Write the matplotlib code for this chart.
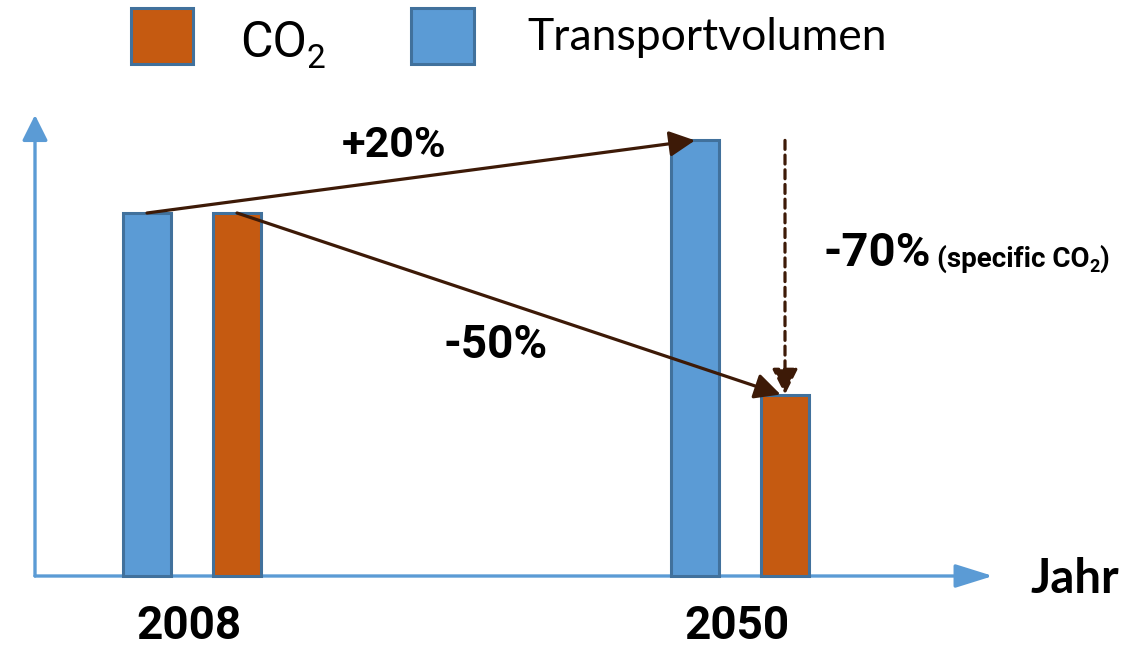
import matplotlib
matplotlib.use("Agg")
import matplotlib.pyplot as plt
from matplotlib.patches import Rectangle

# data (index: 2008 = 100)
years = ["2008", "2050"]
transport = [100, 120]
co2 = [100, 50]
change_labels = ["+20%", "-50%", "-70%"]
legend_labels = ["CO", "Transportvolumen"]

BLUE = "#5b9bd5"
BLUE_EDGE = "#41719c"
ORANGE = "#c55a11"
BROWN = "#3d1a07"

W, H = 1147, 650


def px(x, y):
    # pixel position (from top-left) -> figure fraction
    return x / W, 1 - y / H


def with_sub(fig, x, y, base, sub, tail="", size=30, sub_size=20, drop=-3, **kw):
    t = fig.text(*px(x, y), base, fontsize=size, va="baseline", ha="left", **kw)
    s = plt.annotate(sub, xy=(1, 0), xycoords=t, xytext=(0, drop),
                     textcoords="offset points", fontsize=sub_size,
                     va="bottom", ha="left", **kw)
    if tail:
        plt.annotate(tail, xy=(1, 0), xycoords=(s, t), xytext=(0, 0),
                     textcoords="offset points", fontsize=size,
                     va="bottom", ha="left", **kw)


fig = plt.figure(figsize=(W / 100, H / 100), dpi=100)
ax = fig.add_axes([0, 0, 1, 1])
ax.axis("off")

# x: 1 unit = 548 px, group 2008 at 192 px; y: 1 unit = 3.63 px, baseline at 576 px
ax.set_xlim(-192 / 548, (W - 192) / 548)
ax.set_ylim(-(H - 576) / 3.63, 576 / 3.63)

x = list(range(len(years)))
off = 45 / 548
bw = 48 / 548

ax.bar([i - off for i in x], transport, bw, color=BLUE, edgecolor=BLUE_EDGE,
       linewidth=2.2, zorder=3)
ax.bar([i + off for i in x], co2, bw, color=ORANGE, edgecolor=BLUE_EDGE,
       linewidth=2.2, zorder=3)

# axes arrows
x_axis = (35 - 192) / 548
ax.annotate("", xy=(x_axis, (576 - 115) / 3.63), xytext=(x_axis, 0),
            arrowprops=dict(arrowstyle="-|>,head_length=0.6,head_width=0.3",
                            mutation_scale=26, color=BLUE, lw=2.4,
                            shrinkA=0, shrinkB=0), zorder=2)
ax.annotate("", xy=((993 - 192) / 548, 0), xytext=(x_axis, 0),
            arrowprops=dict(arrowstyle="-|>,head_length=0.8,head_width=0.25",
                            mutation_scale=29, color=BLUE, lw=2.4,
                            shrinkA=0, shrinkB=0), zorder=2)

# change arrows
head = dict(arrowstyle="-|>,head_length=0.6,head_width=0.3", mutation_scale=26,
            color=BROWN, lw=2.3, shrinkA=0, shrinkB=0)
ax.annotate("", xy=(x[1] - off, transport[1]), xytext=(x[0] - off, transport[0]),
            arrowprops=head, zorder=5)
ax.annotate("", xy=(x[1] + off - 0.008, co2[1]), xytext=(x[0] + off, co2[0]),
            arrowprops=head, zorder=5)
ax.annotate("", xy=(x[1] + off, co2[1]), xytext=(x[1] + off, transport[1]),
            arrowprops=dict(head, linestyle=(0, (2.8, 1.8))), zorder=5)

# change labels
fig.text(*px(394, 157), change_labels[0], fontsize=31, fontweight="bold",
         family="Roboto", ha="center", va="baseline")
fig.text(*px(496, 358), change_labels[1], fontsize=33, fontweight="bold",
         family="Roboto", ha="center", va="baseline")
fig.text(*px(823, 266), change_labels[2], fontsize=34, fontweight="bold",
         family="Roboto", ha="left", va="baseline")
with_sub(fig, 937, 267, "(specific CO", "2", ")", size=20, sub_size=13, drop=-2,
         fontweight="bold", family="Roboto")

# year labels (kept inside the bottom edge)
for i, yr in zip(x, years):
    ax.text(i - 0.006, -(648 - 576) / 3.63, yr, fontsize=33, fontweight="bold",
            family="Roboto", ha="center", va="bottom")

fig.text(*px(1030, 593), "Jahr", fontsize=34, fontweight="bold", family="Lato",
         ha="left", va="baseline")

# legend
fig.add_artist(Rectangle(px(131, 64), 62 / W, 56 / H, transform=fig.transFigure,
                         facecolor=ORANGE, edgecolor=BLUE_EDGE, linewidth=2.2))
fig.add_artist(Rectangle(px(411, 64), 63 / W, 56 / H, transform=fig.transFigure,
                         facecolor=BLUE, edgecolor=BLUE_EDGE, linewidth=2.2))
with_sub(fig, 240, 57, legend_labels[0], "2", size=36, sub_size=24, drop=-6,
         family="Roboto")
fig.text(*px(527, 50), legend_labels[1], fontsize=32, family="Lato",
         ha="left", va="baseline")

fig.savefig("out.png", dpi=100)
